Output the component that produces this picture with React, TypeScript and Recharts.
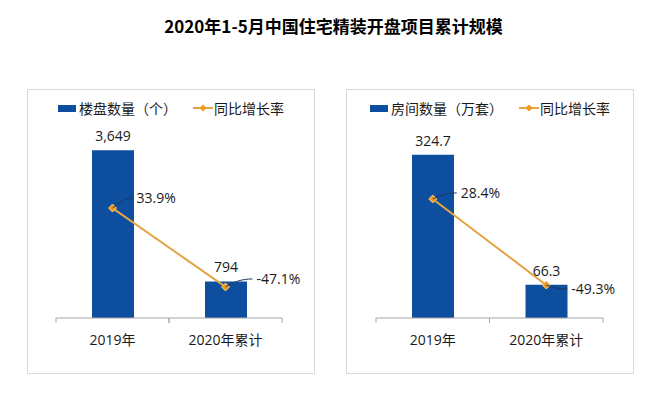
import React from 'react';
import { ComposedChart, Bar, Line, XAxis, YAxis, LabelList } from 'recharts';

const categories = ['2019年', '2020年累计'];
const projectCounts = [3649, 794];
const projectGrowth = [33.9, -47.1];
const roomCounts = [324.7, 66.3];
const roomGrowth = [28.4, -49.3];

const BAR_COLOR = '#0D4F9E';
const LINE_COLOR = '#E3A542';
const DOT_COLOR = '#F29C1F';
const NUM_FONT = '"Open Sans", "Noto Sans CJK SC", sans-serif';
const CJK_FONT = '"Noto Sans CJK SC", "Noto Sans", sans-serif';

interface PanelProps {
  left: number;
  barName: string;
  values: number[];
  growth: number[];
  barDomain: [number, number];
  growthDomain: [number, number];
  formatValue: (v: number) => string;
  leaders: { dx: number; dy: number }[];
  margin: { top: number; right: number; bottom: number; left: number };
}

const Diamond = (props: any) => {
  const { cx, cy } = props;
  if (cx == null || cy == null) return null;
  const r = 4;
  return (
    <polygon
      points={`${cx},${cy - r} ${cx + r},${cy} ${cx},${cy + r} ${cx - r},${cy}`}
      fill={DOT_COLOR}
      stroke="#F7C66E"
      strokeWidth={1}
    />
  );
};

const CategoryTick = (props: any) => {
  const { x, y, payload } = props;
  const half = payload && payload.offset ? payload.offset : 56.5;
  return (
    <g>
      <line x1={x - half} y1={y} x2={x - half} y2={y + 5} stroke="#A6A6A6" />
      <line x1={x + half} y1={y} x2={x + half} y2={y + 5} stroke="#A6A6A6" />
      <text x={x} y={y + 22} dy="0.35em" textAnchor="middle" fontSize={14} fill="#1a1a1a" fontFamily={NUM_FONT}>
        {payload.value}
      </text>
    </g>
  );
};

function Panel({ left, barName, values, growth, barDomain, growthDomain, formatValue, leaders, margin }: PanelProps) {
  const data = categories.map((name, i) => ({ name, value: values[i], growth: growth[i] }));

  const renderGrowthLabel = (props: any) => {
    const { x, y, value, index } = props;
    const l = leaders[index] || { dx: 25, dy: -8 };
    const ex = x + l.dx - 4;
    const ey = y + l.dy;
    return (
      <g>
        <path
          d={`M${x},${y} C${x + 8},${y + l.dy * 0.6} ${x + l.dx * 0.5},${ey} ${ex},${ey}`}
          fill="none"
          stroke="#1F3864"
          strokeWidth={1}
        />
        <text x={x + l.dx} y={ey} dy="0.35em" fontSize={14} fill="#1a1a1a" fontFamily={NUM_FONT}>
          {`${value.toFixed(1)}%`}
        </text>
      </g>
    );
  };

  return (
    <div
      style={{
        position: 'absolute',
        left,
        top: 90,
        width: 286,
        height: 283,
        outline: '1px solid #D9D9D9',
        background: '#fff',
      }}
    >
      <div
        style={{
          position: 'absolute',
          top: 9,
          left: 0,
          width: 286,
          display: 'flex',
          justifyContent: 'center',
          alignItems: 'center',
          fontFamily: CJK_FONT,
          fontSize: 14,
          color: '#1a1a1a',
          lineHeight: '18px',
          whiteSpace: 'nowrap',
        }}
      >
        <span style={{ display: 'inline-block', width: 18, height: 7, background: BAR_COLOR, marginRight: 3 }} />
        <span>{barName}</span>
        <svg width={20} height={10} style={{ marginLeft: 16, marginRight: 1 }}>
          <line x1={0} y1={5} x2={20} y2={5} stroke={LINE_COLOR} strokeWidth={2} />
          <polygon points="10,1.5 13.5,5 10,8.5 6.5,5" fill={DOT_COLOR} />
        </svg>
        <span>同比增长率</span>
      </div>
      <ComposedChart width={286} height={283} data={data} margin={margin} barSize={42}>
        <XAxis
          dataKey="name"
          axisLine={{ stroke: '#A6A6A6' }}
          tickLine={false}
          tickSize={0}
          tickMargin={0}
          height={30}
          interval={0}
          tick={<CategoryTick />}
        />
        <YAxis yAxisId="bar" hide domain={barDomain} />
        <YAxis yAxisId="growth" hide orientation="right" domain={growthDomain} />
        <Bar yAxisId="bar" dataKey="value" fill={BAR_COLOR} isAnimationActive={false}>
          <LabelList
            dataKey="value"
            position="top"
            offset={9}
            formatter={(v: any) => formatValue(Number(v))}
            style={{ fontSize: 14, fill: '#1a1a1a', fontFamily: NUM_FONT }}
          />
        </Bar>
        <Line
          yAxisId="growth"
          dataKey="growth"
          stroke={LINE_COLOR}
          strokeWidth={2}
          dot={<Diamond />}
          activeDot={false}
          isAnimationActive={false}
        >
          <LabelList dataKey="growth" content={renderGrowthLabel} />
        </Line>
      </ComposedChart>
    </div>
  );
}

export default function App() {
  return (
    <div style={{ position: 'absolute', left: 0, top: 0, width: 667, height: 399, background: '#fff', overflow: 'hidden' }}>
      <div
        style={{
          position: 'absolute',
          top: 14,
          left: 0,
          width: 667,
          textAlign: 'center',
          fontFamily: CJK_FONT,
          fontWeight: 'bold',
          fontSize: 17,
          lineHeight: '24px',
          color: '#000',
        }}
      >
        2020年1-5月中国住宅精装开盘项目累计规模
      </div>
      <Panel
        left={28}
        barName="楼盘数量（个）"
        values={projectCounts}
        growth={projectGrowth}
        barDomain={[0, 4000]}
        growthDomain={[-79, 110]}
        formatValue={(v) => v.toLocaleString('en-US')}
        leaders={[{ dx: 24, dy: -10 }, { dx: 31, dy: -8 }]}
        margin={{ top: 44, right: 32, bottom: 25, left: 28 }}
      />
      <Panel
        left={347}
        barName="房间数量（万套）"
        values={roomCounts}
        growth={roomGrowth}
        barDomain={[0, 366]}
        growthDomain={[-79, 87]}
        formatValue={(v) => v.toFixed(1)}
        leaders={[{ dx: 28, dy: -6 }, { dx: 25, dy: 4 }]}
        margin={{ top: 44, right: 30, bottom: 25, left: 29 }}
      />
    </div>
  );
}
